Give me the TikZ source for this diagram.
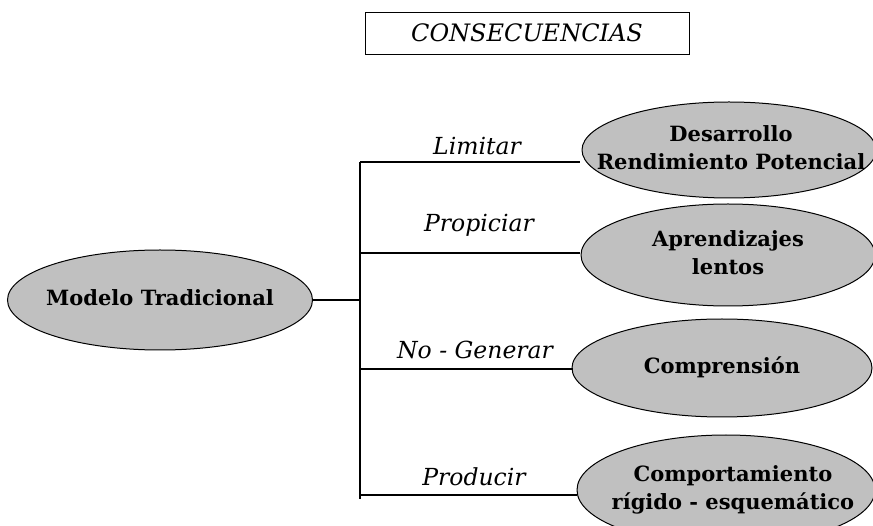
\documentclass[tikz,border=0pt]{standalone}
\usepackage{fontspec}
\setmainfont{DejaVu Serif}
\usetikzlibrary{shapes.geometric}
\definecolor{ellgray}{HTML}{C0C0C0}
\newcommand\ctext[2][0pt]{\makebox[0pt]{\hspace*{#1}\begin{tabular}{@{}c@{}}#2\end{tabular}}}
\tikzset{
  ell/.style={ellipse, draw=black, fill=ellgray, line width=1pt, inner sep=0pt,
    minimum width=300pt, minimum height=98pt, align=center,
    font=\fontsize{21}{28}\selectfont\bfseries},
  lbl/.style={font=\fontsize{23.5}{27}\selectfont\itshape, inner sep=0pt},
  conn/.style={line width=1.1pt},
  titlebox/.style={draw=black, line width=0.8pt, minimum width=324pt, minimum height=42pt,
    font=\fontsize{24}{28}\selectfont\itshape, inner sep=0pt}
}
\begin{document}
\begin{tikzpicture}[x=1pt,y=-1pt]
\useasboundingbox (0,0) rectangle (873,526);
\node[titlebox] (title) at (527,33) {CONSECUENCIAS};
\node[ell, minimum width=305pt, minimum height=100pt] (modelo) at (160,300) {\ctext{Modelo Tradicional}};
\node[ell, minimum width=294pt, minimum height=96pt] (d1) at (729,150) {\ctext[4pt]{Desarrollo\\Rendimiento Potencial}};
\node[ell, minimum width=294pt, minimum height=102pt] (d2) at (728,255) {\ctext{Aprendizajes\\lentos}};
\node[ell] (d3) at (722,368) {\ctext{Comprensión}};
\node[ell, minimum width=298pt, minimum height=110pt] (d4) at (726,490) {\ctext[14pt]{Comportamiento\\rígido - esquemático}};
\coordinate (sm) at (360,300);
\coordinate (s1) at (360,162);
\coordinate (s2) at (360,253);
\coordinate (s3) at (360,369);
\coordinate (s4) at (360,495);
\coordinate (sb) at (360,499);
\coordinate (e1) at (580,162);
\coordinate (e2) at (580,253);
\coordinate (e3) at (573,369);
\coordinate (e4) at (577,495);
\draw[conn] (modelo.east) -- (sm);
\draw[conn] (s1) -- (sb);
\draw[conn] (s1) -- (e1);
\draw[conn] (s2) -- (e2);
\draw[conn] (s3) -- (e3);
\draw[conn] (s4) -- (e4);
\node[lbl] (l1) at (477,146) {Limitar};
\node[lbl] (l2) at (479,225) {Propiciar};
\node[lbl] (l3) at (475,350) {No - Generar};
\node[lbl] (l4) at (474,477) {Producir};
\end{tikzpicture}
\end{document}
